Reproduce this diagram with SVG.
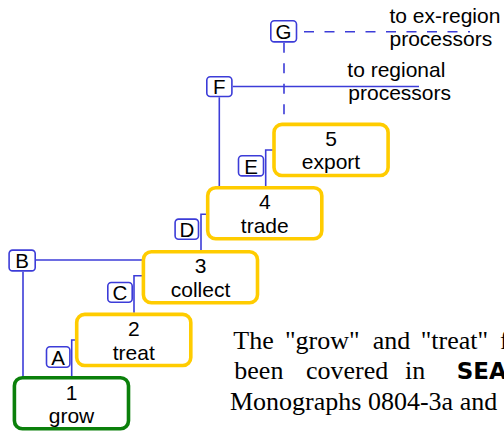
<svg xmlns="http://www.w3.org/2000/svg" width="504" height="434" viewBox="0 0 504 434">
  <style>
    .stage { fill: #ffffff; stroke: #ffcc00; stroke-width: 3.6; }
    .stage.first { stroke: #0b800b; }
    .stage-text { font-family: "Liberation Sans", Arial, sans-serif; font-size: 21px; fill: #000; text-anchor: middle; }
    .tag { fill: #ffffff; stroke: #3c3cd8; stroke-width: 1.6; }
    .tag-text { font-family: "Liberation Sans", Arial, sans-serif; font-size: 20.5px; fill: #000; text-anchor: middle; }
    .link { fill: none; stroke: #3c3cd8; stroke-width: 1.6; }
    .link.dashed { stroke-dasharray: 10 10.5; }
    .note { font-family: "Liberation Sans", Arial, sans-serif; font-size: 21px; fill: #000; }
    .para { font-family: "Liberation Serif", "Times New Roman", serif; font-size: 26px; fill: #000; }
    .para-bold { font-family: "DejaVu Sans", Verdana, sans-serif; font-size: 23px; font-weight: bold; fill: #000; }
  </style>

  <rect width="504" height="434" fill="#ffffff"/>

  <!-- connectors between stages, with their letter tags -->
  <g id="connectors">
    <path class="link" d="M71.7,376 V340 H76.7"/>
    <path class="link" d="M36,260 H143.4"/>
    <path class="link" d="M23,271.7 V376"/>
    <path class="link" d="M134,312.7 V275.7 H143.4"/>
    <path class="link" d="M201,250 V214.3 H207.7"/>
    <path class="link" d="M265.7,186 V150 H274"/>
    <path class="link" d="M232.7,86.5 H419"/>
    <path class="link" d="M219.3,97.3 V186"/>
    <path class="link dashed" d="M304,31.7 H470"/>
    <path class="link dashed" d="M284,42.7 V122.7"/>

    <g id="tag-A"><rect class="tag" x="46.5" y="346.8" width="23.4" height="20.4" rx="3.5"/><text class="tag-text" x="58.2" y="364.5">A</text></g>
    <g id="tag-B"><rect class="tag" x="9.1" y="250.1" width="26.1" height="20.8" rx="3.5"/><text class="tag-text" x="22.2" y="268">B</text></g>
    <g id="tag-C"><rect class="tag" x="107.8" y="282.5" width="24.4" height="19.7" rx="3.5"/><text class="tag-text" x="120" y="300">C</text></g>
    <g id="tag-D"><rect class="tag" x="175.1" y="219.1" width="23.4" height="20.1" rx="3.5"/><text class="tag-text" x="186.8" y="236.8">D</text></g>
    <g id="tag-E"><rect class="tag" x="238.5" y="155.8" width="25" height="20.1" rx="3.5"/><text class="tag-text" x="251" y="173.5">E</text></g>
    <g id="tag-F"><rect class="tag" x="206.8" y="76.8" width="25.1" height="19.7" rx="3.5"/><text class="tag-text" x="219.3" y="94.3">F</text></g>
    <g id="tag-G"><rect class="tag" x="270.8" y="20.8" width="25.7" height="21.1" rx="3.5"/><text class="tag-text" x="283.6" y="38.8">G</text></g>
  </g>

  <!-- stages of the chain -->
  <g id="stage-1">
    <rect class="stage first" x="14.4" y="377.7" width="114.1" height="51.1" rx="8"/>
    <text class="stage-text" x="71.5" y="399.5">1</text>
    <text class="stage-text" x="71.5" y="423.3">grow</text>
  </g>
  <g id="stage-2">
    <rect class="stage" x="76.7" y="314.4" width="114.1" height="51.1" rx="8"/>
    <text class="stage-text" x="133.8" y="336">2</text>
    <text class="stage-text" x="133.8" y="359.8">treat</text>
  </g>
  <g id="stage-3">
    <rect class="stage" x="143.4" y="251.7" width="114.1" height="51.1" rx="8"/>
    <text class="stage-text" x="200.5" y="273.2">3</text>
    <text class="stage-text" x="200.5" y="297">collect</text>
  </g>
  <g id="stage-4">
    <rect class="stage" x="207.7" y="187.7" width="114.1" height="51.1" rx="8"/>
    <text class="stage-text" x="264.8" y="209.4">4</text>
    <text class="stage-text" x="264.8" y="233">trade</text>
  </g>
  <g id="stage-5">
    <rect class="stage" x="274" y="124.4" width="114.1" height="51.1" rx="8"/>
    <text class="stage-text" x="331" y="145.8">5</text>
    <text class="stage-text" x="331" y="169.4">export</text>
  </g>

  <!-- destination notes -->
  <g id="notes">
    <text class="note" x="389.5" y="22.7">to ex-region</text>
    <text class="note" x="389.5" y="46">processors</text>
    <text class="note" x="347.3" y="76.6">to regional</text>
    <text class="note" x="348.3" y="100">processors</text>
  </g>

  <!-- explanatory paragraph, justified, running past the right edge -->
  <g id="paragraph">
    <text class="para" x="233.3" y="349.3">The</text>
    <text class="para" x="285" y="349.3">"grow"</text>
    <text class="para" x="372.7" y="349.3">and</text>
    <text class="para" x="420.7" y="349.3">"treat"</text>
    <text class="para" x="500" y="349.3">f</text>
    <text class="para" x="234.3" y="379.3">been</text>
    <text class="para" x="306" y="379.3">covered</text>
    <text class="para" x="405" y="379.3">in</text>
    <text class="para-bold" x="456.7" y="379.3">SEA</text>
    <text class="para" x="230" y="409.5">Monographs 0804-3a and</text>
  </g>
</svg>
